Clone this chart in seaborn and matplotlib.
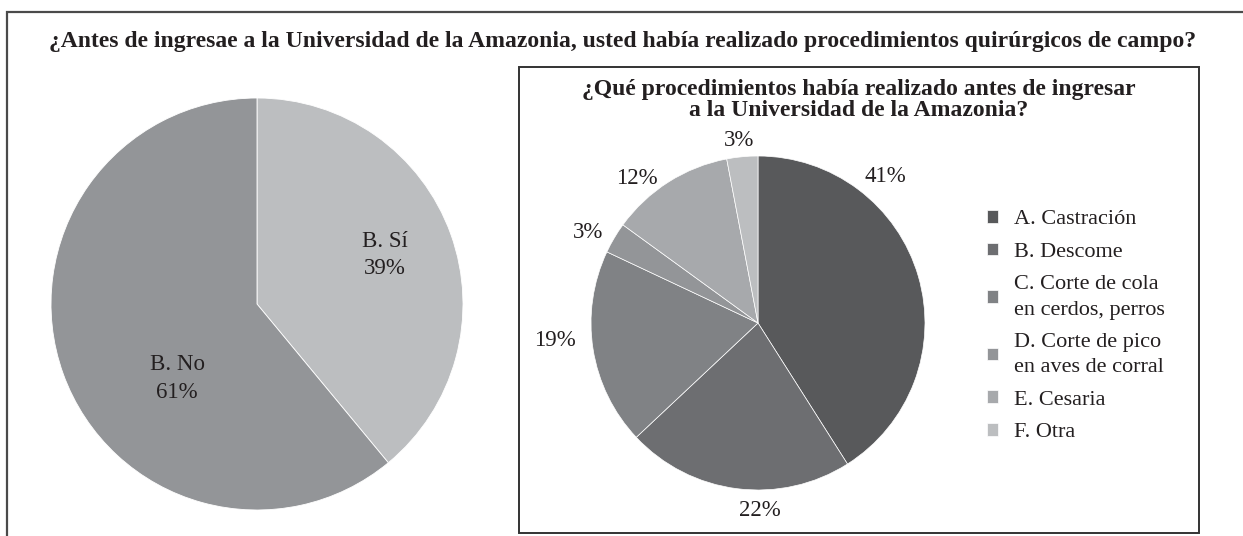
import matplotlib
matplotlib.use("Agg")
import matplotlib.pyplot as plt
import seaborn as sns
import numpy as np
from matplotlib.patches import Rectangle

# data
resp_labels = ["B. Sí", "B. No"]
resp_pct = [39, 61]
resp_colors = ["#bcbec0", "#939598"]

proc_labels = ["A. Castración", "B. Descome", "C. Corte de cola\nen cerdos, perros",
               "D. Corte de pico\nen aves de corral", "E. Cesaria", "F. Otra"]
proc_pct = [41, 22, 19, 3, 12, 3]
proc_colors = ["#58595b", "#6d6e71", "#808285", "#939598", "#a7a9ac", "#bcbec0"]

main_title = "¿Antes de ingresae a la Universidad de la Amazonia, usted había realizado procedimientos quirúrgicos de campo?"
sub_title = "¿Qué procedimientos había realizado antes de ingresar\na la Universidad de la Amazonia?"

sns.set_theme(style="white")
plt.rcParams["font.family"] = ["Liberation Serif", "DejaVu Serif"]
txt = "#231f20"

W, H = 1243, 536
fig = plt.figure(figsize=(W / 100, H / 100), dpi=100)


def box(x0, y0, x1, y1):
    # pixel box (top-left origin) -> figure fraction rect
    return [x0 / W, 1 - y1 / H, (x1 - x0) / W, (y1 - y0) / H]


# frames
fig.patches.append(Rectangle((7 / W, 1 - 545 / H), (1250 - 7) / W, (545 - 12) / H,
                             transform=fig.transFigure, fill=False, lw=1.6, ec="#4a4a4a"))
fig.patches.append(Rectangle((519 / W, 1 - 533 / H), (1199 - 519) / W, (533 - 67) / H,
                             transform=fig.transFigure, fill=False, lw=1.4, ec="#333333"))

fig.text(623 / W, 1 - 41 / H, main_title, ha="center", va="center",
         fontsize=17, fontweight="bold", color=txt)
fig.text(859 / W, 1 - 100 / H, sub_title, ha="center", va="center",
         fontsize=17, fontweight="bold", color=txt, linespacing=1.05)

# left pie
ax1 = fig.add_axes(box(257 - 206, 304 - 206, 257 + 206, 304 + 206))
ax1.pie(resp_pct, colors=resp_colors, startangle=90, counterclock=False,
        wedgeprops=dict(edgecolor="white", linewidth=0.6))
ax1.set_xlim(-1, 1)
ax1.set_ylim(-1, 1)
ax1.set_aspect("equal")
ax1.axis("off")
left_pos = [(21, 0.665), (-137, 0.53)]
for lab, p, (ang, d) in zip(resp_labels, resp_pct, left_pos):
    a = np.deg2rad(ang)
    ax1.text(d * np.cos(a), d * np.sin(a), f"{lab}\n{p}%", ha="center", va="center",
             fontsize=16.5, color=txt, linespacing=1.4)

# right pie
ax2 = fig.add_axes(box(758 - 167, 323 - 167, 758 + 167, 323 + 167))
wedges, _ = ax2.pie(proc_pct, colors=proc_colors, startangle=90, counterclock=False,
                    wedgeprops=dict(edgecolor="white", linewidth=0.5))
ax2.set_xlim(-1, 1)
ax2.set_ylim(-1, 1)
ax2.set_aspect("equal")
ax2.axis("off")
right_pos = [(49, 1.16), (-89.4, 1.12), (185, 1.22), (152, 1.15), (130, 1.13), (96, 1.1)]
for p, (ang, d) in zip(proc_pct, right_pos):
    a = np.deg2rad(ang)
    ax2.text(d * np.cos(a), d * np.sin(a), f"{p}%", ha="center", va="center",
             fontsize=16.5, color=txt, clip_on=False)

leg = fig.legend(wedges, proc_labels, loc="upper left", bbox_to_anchor=(976 / W, 1 - 199 / H),
                 frameon=False, fontsize=16, handlelength=0.5, handleheight=0.5,
                 handletextpad=0.7, labelspacing=0.6, borderpad=0, labelcolor=txt)
for t in leg.get_texts():
    t.set_linespacing(1.45)

fig.savefig("out.png", dpi=100)
